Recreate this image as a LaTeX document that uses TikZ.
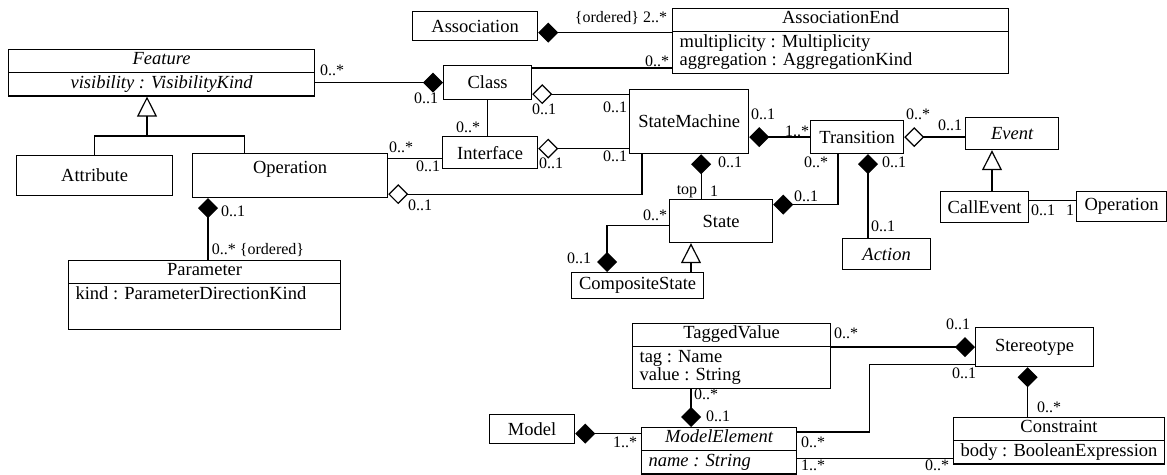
\documentclass[tikz,border=0pt]{standalone}
\usepackage{fontspec}
\setmainfont{Liberation Serif}
\usetikzlibrary{arrows.meta,shapes.multipart,positioning}
\tikzset{
  cls/.style={ % image of a plain class box
    draw, rectangle, anchor=north west, inner sep=0pt,
    font=\fontsize{9.25}{9.2}\selectfont
  },
  cls2/.style={ % image of a class box with an attribute part
    draw, rectangle split, rectangle split parts=2,
    rectangle split part align={center,left},
    anchor=north west, inner xsep=3.5pt, inner ysep=0.9pt,
    font=\fontsize{9.25}{9.2}\selectfont
  },
  mult/.style={ % multiplicity or role text at an association end
    inner sep=0pt, font=\fontsize{8}{9}\selectfont
  },
  comp/.style={-{Diamond[length=10pt,width=10pt]}},       % composition
  aggr/.style={-{Diamond[open,length=10pt,width=10pt]}},  % aggregation
  gen/.style={-{Triangle[open,length=10pt,width=10pt]}}   % generalization
}
\begin{document}
\begin{tikzpicture}[x=0.5pt, y=-0.5pt, line width=0.6pt]
  \useasboundingbox (0,0) rectangle (1167,475);

  % classes
  \node[cls2, rectangle split part align={center,center}, minimum width=153pt] (feature) at (8,49)
    {\strut\itshape Feature \nodepart{two}\strut\itshape visibility : VisibilityKind};
  \node[cls, minimum width=78pt, minimum height=20pt] (attribute) at (16,155) {Attribute};
  \node[cls, minimum width=97.5pt, text height=10pt, text depth=12pt] (oper) at (192,153) {Operation};
  \node[cls2, minimum width=136pt, align=left] (parameter) at (68,260)
    {\strut Parameter \nodepart{two}\strut kind : ParameterDirectionKind\\[2pt]\strut};
  \node[cls, minimum width=62.5pt, minimum height=14.5pt] (association) at (412,11) {Association};
  \node[cls2, minimum width=168pt, align=left] (assocend) at (672,8)
    {\strut AssociationEnd \nodepart{two}\strut multiplicity : Multiplicity\\\strut aggregation : AggregationKind};
  \node[cls, minimum width=44pt, minimum height=17pt] (class) at (443,65) {Class};
  \node[cls, minimum width=47.5pt, minimum height=16pt] (interface) at (442,136) {Interface};
  \node[cls, minimum width=59.5pt, minimum height=32pt] (statemachine) at (629,89) {StateMachine};
  \node[cls, minimum width=51.5pt, minimum height=21.5pt] (state) at (669,199) {State};
  \node[cls, minimum width=66pt, minimum height=13pt] (composite) at (571,272) {CompositeState};
  \node[cls, minimum width=46.5pt, minimum height=16.5pt] (transition) at (810,120) {Transition};
  \node[cls, minimum width=44pt, minimum height=15.5pt] (action) at (842,238) {\itshape Action};
  \node[cls, minimum width=46.5pt, minimum height=16pt] (event) at (965,117) {\itshape Event};
  \node[cls, minimum width=44pt, minimum height=15.5pt] (callevent) at (940,191) {CallEvent};
  \node[cls, minimum width=45pt, minimum height=15pt] (callop) at (1076,191) {Operation};
  \node[cls2, minimum width=99pt, align=left] (taggedvalue) at (632,323)
    {\strut TaggedValue \nodepart{two}\strut tag : Name\\\strut value : String};
  \node[cls, minimum width=59pt, minimum height=19.5pt] (stereotype) at (975,327) {Stereotype};
  \node[cls2, minimum width=105pt] (constraint) at (953,417)
    {\strut Constraint \nodepart{two}\strut body : BooleanExpression};
  \node[cls, minimum width=42.5pt, minimum height=14.5pt] (model) at (489,414) {Model};
  \node[cls2, minimum width=77.5pt] (modelelement) at (641,427)
    {\strut\itshape ModelElement \nodepart{two}\strut\itshape name : String};

  % generalizations
  \coordinate (featfork) at (147,136);
  \draw[gen] (featfork) -- (featfork |- feature.south);
  \draw (attribute.north) |- (featfork) -| ([xshift=-23pt]oper.north);
  \draw[gen] ([xshift=26pt]callevent.north west) -- ([xshift=26pt]callevent.north west |- event.south);
  \draw[gen] ([xshift=11pt]state.south west |- composite.north) -- ([xshift=11pt]state.south west);

  % compositions and aggregations
  \draw[comp] (feature.east |- class.west) -- (class.west);
  \draw[comp] ([yshift=-3.25pt]association.east -| assocend.west) -- ([yshift=-3.25pt]association.east);
  \draw ([yshift=-1.5pt]class.north east) -- ([yshift=-1.5pt]class.north east -| assocend.west);
  \draw[aggr] ([yshift=3pt]class.south east -| statemachine.west) -- ([yshift=3pt]class.south east);
  \draw (class.south) -- (class.south |- interface.north);
  \draw[aggr] ([yshift=2pt]interface.east -| statemachine.west) -- ([yshift=2pt]interface.east);
  \draw ([yshift=-3pt]interface.west) -- ([yshift=-3pt]interface.west -| oper.east);
  \draw[aggr] ([xshift=6.5pt]statemachine.south west) |- ([yshift=2pt]oper.south east);
  \draw[comp] ([xshift=8pt]oper.south west |- parameter.north) -- ([xshift=8pt]oper.south west);
  \draw[comp] ([xshift=6pt]statemachine.south |- state.north) -- ([xshift=6pt]statemachine.south);
  \draw[comp] (transition.west) -- (transition.west -| statemachine.east);
  \draw[comp] ([xshift=14pt]transition.south west) |- ([yshift=8.25pt]state.east);
  \draw[comp] ([xshift=13pt]action.north west) -- ([xshift=13pt]action.north west |- transition.south);
  \draw[aggr] (transition.east -| event.west) -- (transition.east);
  \draw ([yshift=3.25pt]callevent.east) -- ([yshift=3.25pt]callevent.east -| callop.west);
  \draw[comp] ([yshift=-2.25pt]state.west) -| ([xshift=18pt]composite.north west);
  \draw[comp] (stereotype.west -| taggedvalue.east) -- (stereotype.west);
  \draw ([yshift=-2.5pt]modelelement.north east) -- ++(72,0) |- ([yshift=1.5pt]stereotype.south west);
  \draw ([yshift=3pt]constraint.south west) -- ([yshift=3pt]constraint.south west -| modelelement.east);
  \draw[comp] ([xshift=-3.5pt]stereotype.south |- constraint.north) -- ([xshift=-3.5pt]stereotype.south);
  \draw[comp] ([xshift=25pt]modelelement.north west |- taggedvalue.south) -- ([xshift=25pt]modelelement.north west);
  \draw[comp] ([yshift=-2.25pt]model.east -| modelelement.west) -- ([yshift=-2.25pt]model.east);

  % multiplicities
  \node[mult] (m-fc1) at (332,70) {0..*};
  \node[mult] (m-fc2) at (426,98) {0..1};
  \node[mult] (m-ae1) at (621,18) {\{ordered\} 2..*};
  \node[mult] (m-ae2) at (657,61) {0..*};
  \node[mult] (m-cs1) at (544,109) {0..1};
  \node[mult] (m-cs2) at (615,107) {0..1};
  \node[mult] (m-ci1) at (468,127) {0..*};
  \node[mult] (m-is1) at (551,163) {0..1};
  \node[mult] (m-is2) at (615,156) {0..1};
  \node[mult] (m-oi1) at (401,147) {0..*};
  \node[mult] (m-oi2) at (428,166) {0..1};
  \node[mult] (m-os1) at (420,205) {0..1};
  \node[mult] (m-op1) at (233,211) {0..1};
  \node[mult] (m-op2) at (258,250) {0..* \{ordered\}};
  \node[mult] (m-ss1) at (730,162) {0..1};
  \node[mult] (m-ss2) at (687,192) {top};
  \node[mult] (m-ss3) at (714,191) {1};
  \node[mult] (m-st1) at (763,114) {0..1};
  \node[mult] (m-st2) at (797,131) {1..*};
  \node[mult] (m-ts1) at (816,162) {0..*};
  \node[mult] (m-ts2) at (806,196) {0..1};
  \node[mult] (m-ta1) at (894,162) {0..1};
  \node[mult] (m-ta2) at (883,226) {0..1};
  \node[mult] (m-te1) at (918,114) {0..*};
  \node[mult] (m-te2) at (950,125) {0..1};
  \node[mult] (m-co1) at (1043,210) {0..1};
  \node[mult] (m-co2) at (1070,210) {1};
  \node[mult] (m-sc1) at (655,215) {0..*};
  \node[mult] (m-sc2) at (579,258) {0..1};
  \node[mult] (m-tv1) at (846,333) {0..*};
  \node[mult] (m-tv2) at (958,324) {0..1};
  \node[mult] (m-ms1) at (964,373) {0..1};
  \node[mult] (m-ms2) at (813,442) {0..*};
  \node[mult] (m-mc1) at (813,465) {1..*};
  \node[mult] (m-mc2) at (937,465) {0..*};
  \node[mult] (m-sk1) at (1049,407) {0..*};
  \node[mult] (m-tm1) at (706,394) {0..*};
  \node[mult] (m-tm2) at (718,416) {0..1};
  \node[mult] (m-mm1) at (625,442) {1..*};
\end{tikzpicture}
\end{document}
